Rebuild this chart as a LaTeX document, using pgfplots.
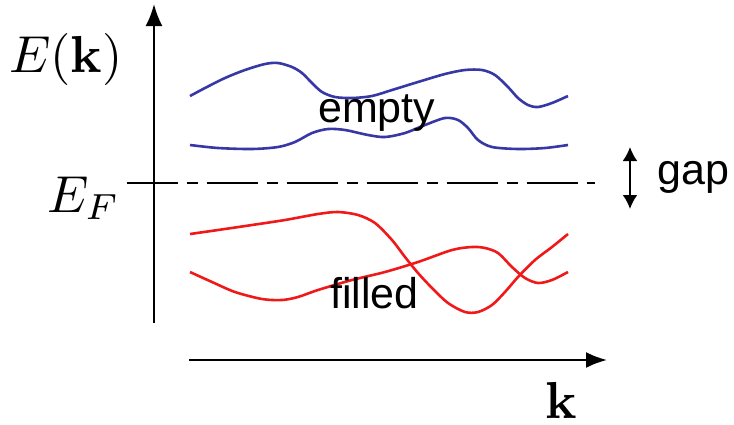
\documentclass[border=0pt]{standalone}
\usepackage[no-math]{fontspec}
\setmainfont{Liberation Sans}
\usepackage{pgfplots}
\pgfplotsset{compat=1.18}
\usetikzlibrary{arrows.meta}
\definecolor{bandblue}{RGB}{55,55,165}
\definecolor{bandred}{RGB}{240,25,25}
\begin{document}
\begin{tikzpicture}
\begin{axis}[
  width=734pt, height=424pt, scale only axis,
  xmin=0, xmax=734, ymin=0, ymax=424, y dir=reverse,
  axis lines=none, clip=false,
]
\path[draw=none] (axis cs:0,0) rectangle (axis cs:734,424);
% axes
\draw[line width=2.2pt, -{Latex[length=22pt,width=17pt]}] (axis cs:154,323) -- (axis cs:154,4);
\draw[line width=2.2pt, -{Latex[length=21pt,width=16pt]}] (axis cs:189,360) -- (axis cs:607,360);
% Fermi level
\draw[line width=2.2pt, dash pattern=on 51pt off 9pt on 11pt off 9pt] (axis cs:127,183) -- (axis cs:595,183);
% gap arrow
\draw[line width=2.2pt, {Latex[length=14pt,width=15pt]}-{Latex[length=14pt,width=15pt]}] (axis cs:630,147) -- (axis cs:630,209);
% bands
\addplot[bandblue, line width=2.6pt, smooth] coordinates {
 (190,96) (205,88) (225,78) (245,70) (265,64) (278,63) (292,67) (302,73) (312,83) (322,92)
 (335,97) (352,98) (372,96) (392,90) (418,82) (445,74) (465,70) (482,70) (495,75) (508,87)
 (518,98) (528,105) (538,107) (552,103) (568,96)};
\addplot[bandblue, line width=2.6pt, smooth] coordinates {
 (190,145) (218,148) (252,149) (278,147) (295,142) (312,133) (328,129) (345,130) (368,135)
 (385,137) (405,133) (425,125) (445,118) (458,120) (468,128) (478,140) (492,147) (518,149)
 (545,148) (568,145)};
\addplot[bandred, line width=2.6pt, smooth] coordinates {
 (190,234) (218,230) (252,225) (285,220) (318,214) (338,212) (358,215) (375,223) (392,240)
 (405,257) (418,273) (432,288) (448,303) (465,312) (478,312) (492,305) (505,292) (518,277)
 (535,260) (552,247) (568,234)};
\addplot[bandred, line width=2.6pt, smooth] coordinates {
 (190,272) (212,282) (235,292) (262,299) (282,300) (298,297) (318,290) (352,280) (385,272)
 (418,262) (452,250) (472,247) (485,248) (498,253) (512,267) (525,278) (538,283) (552,280)
 (568,272)};
% labels
\node[anchor=base west, inner sep=0pt, scale=5.2, font=\fontsize{10}{12}\selectfont] at (axis cs:8,72) {$E(\mathbf{k})$};
\node[anchor=base west, inner sep=0pt, scale=5.2, font=\fontsize{10}{12}\selectfont] at (axis cs:46,212) {$E_F$};
\node[anchor=base west, inner sep=0pt, scale=5.2, font=\fontsize{10}{12}\selectfont] at (axis cs:544,418) {$\mathbf{k}$};
\node[anchor=base west, inner sep=0pt, font=\fontsize{43}{50}\selectfont] at (axis cs:318,122) {empty};
\node[anchor=base west, inner sep=0pt, font=\fontsize{43}{50}\selectfont] at (axis cs:330,308) {filled};
\node[anchor=base west, inner sep=0pt, font=\fontsize{43}{50}\selectfont] at (axis cs:657,184) {gap};
\end{axis}
\end{tikzpicture}
\end{document}
